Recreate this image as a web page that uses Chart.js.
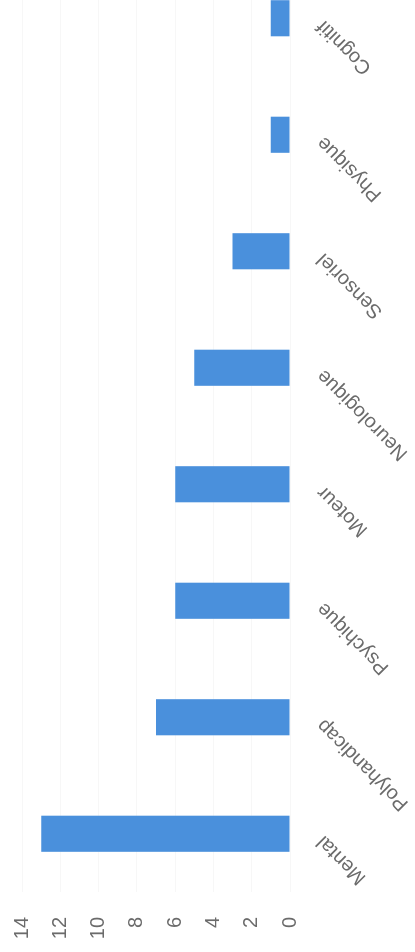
<!DOCTYPE html>
<html>
<head>
<meta charset="utf-8">
<script src="https://cdn.jsdelivr.net/npm/chart.js@4"></script>
<style>
  html, body { margin: 0; padding: 0; background: #fff; }
  body { width: 415px; height: 952px; overflow: hidden; position: relative; }
  /* the photo shows the page turned a quarter turn counter-clockwise */
  #turn {
    position: absolute; left: 0; top: 0;
    width: 1000px; height: 415px;
    transform-origin: 0 0;
    transform: translate(0, 952px) rotate(-90deg);
  }
</style>
</head>
<body>
<div id="turn"><canvas id="chart" width="1000" height="415"></canvas></div>
<script>
'use strict';

const categories = ['Mental', 'Polyhandicap', 'Psychique', 'Moteur', 'Neurologique', 'Sensoriel', 'Physique', 'Cognitif'];
const counts = [13, 7, 6, 6, 5, 3, 1, 1];
const yTicks = [0, 2, 4, 6, 8, 10, 12, 14];

const BAR_BLUE = '#4a90dc';
const TEXT_GREY = '#6b6b6b';

Chart.defaults.font.family = '"Liberation Sans", Arial, sans-serif';
Chart.defaults.font.size = 20;
Chart.defaults.color = TEXT_GREY;

new Chart(document.getElementById('chart'), {
  type: 'bar',
  data: {
    labels: categories,
    datasets: [{
      label: 'Nombre',
      data: counts,
      backgroundColor: BAR_BLUE,
      borderWidth: 0,
      categoryPercentage: 1,
      barPercentage: 0.31
    }]
  },
  options: {
    responsive: false,
    animation: false,
    devicePixelRatio: 1,
    layout: { padding: { top: 22, right: 8, bottom: 0, left: 0 } },
    plugins: {
      legend: { display: false },
      tooltip: { enabled: false }
    },
    scales: {
      x: {
        grid: { display: false },
        border: { display: false },
        ticks: { autoSkip: false, minRotation: 45, maxRotation: 45, padding: 14, labelOffset: -5 },
        afterFit: s => { s.height = 125; }
      },
      y: {
        min: yTicks[0],
        max: yTicks[yTicks.length - 1],
        afterBuildTicks: s => { s.ticks = yTicks.map(v => ({ value: v })); },
        // invisible tick marks keep the gap between labels and plot
        grid: { color: 'rgba(0,0,0,0.03)', drawTicks: true, tickLength: 22, tickColor: 'rgba(0,0,0,0)' },
        border: { display: false },
        ticks: { padding: 3 },
        afterFit: s => { s.width = 60; }
      }
    }
  }
});
</script>
</body>
</html>
